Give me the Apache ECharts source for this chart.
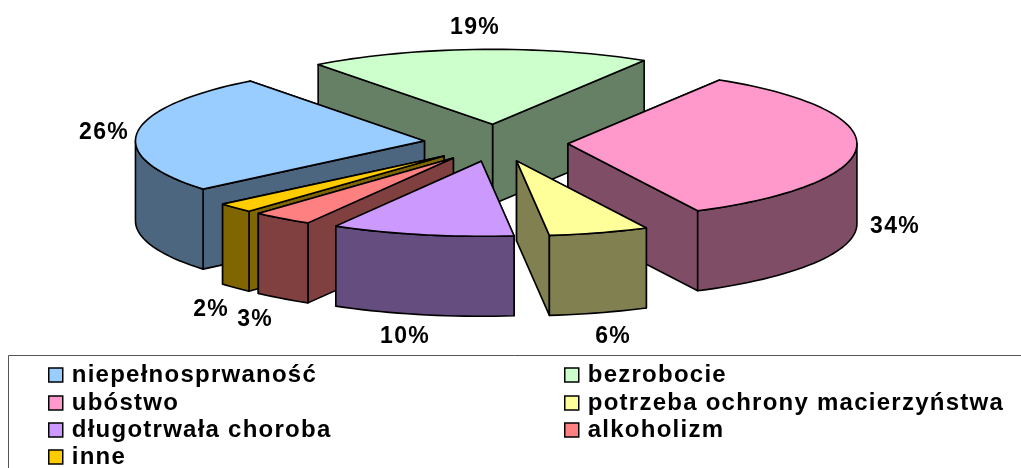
<!DOCTYPE html>
<html><head><meta charset="utf-8">
<style>html,body{margin:0;padding:0;background:#fff}#c{width:1021px;height:468px}</style>
<script src="https://cdn.jsdelivr.net/npm/echarts@6/dist/echarts.min.js"></script>
</head><body><div id="c"></div>
<script>
const categories = ['niepełnosprwaność','bezrobocie','ubóstwo','potrzeba ochrony macierzyństwa','długotrwała choroba','alkoholizm','inne'];
const shares = [25.8,19.1,33.8,5.6,10.2,3.4,2.1];
const topColors = ['#99CCFF','#CCFFCC','#FF99CC','#FFFF99','#CC99FF','#FF8080','#FFCC00'];
const wallColors = ['#4D6680','#668066','#804D66','#808050','#664D80','#804040','#806600'];
const drawOrder = [1,0,2,6,5,4,3];

const C = {x:496,y:143,rx:289,ry:75,depth:80,explode:72,firstAngle:230};
const labelAt = [[104,133],[475,28],[895,227],[613,337],[405,337],[255,320],[211,310]];
const legendAt = [[48,366],[564,366],[48,394],[564,394],[48,421],[564,421],[48,448]];

const total = shares.reduce((a,b)=>a+b,0);
const rad = d=>d*Math.PI/180;
function sliceAngles(i){
  let a = C.firstAngle;
  for(let k=0;k<i;k++) a += shares[k]/total*360;
  return [a, a+shares[i]/total*360];
}
function renderSlice(params, api){
  const i = api.value(1);
  const [a0,a1] = sliceAngles(i);
  const m = rad((a0+a1)/2);
  const cx = C.x + C.explode*Math.sin(m);
  const cy = C.y - C.explode*(C.ry/C.rx)*Math.cos(m);
  const P = (a,dz)=>[cx+C.rx*Math.sin(rad(a)), cy-C.ry*Math.cos(rad(a))+(dz||0)];
  const arc = (s,e,dz)=>{const n=Math.max(2,Math.ceil(Math.abs(e-s)/2));const o=[];for(let j=0;j<=n;j++)o.push(P(s+(e-s)*j/n,dz));return o;};
  const ln = {stroke:'#000',lineWidth:1.6,lineJoin:'round'};
  const wall = {fill:wallColors[i],...ln};
  const apex=[cx,cy], apexB=[cx,cy+C.depth];
  const face = a=>({type:'polygon',shape:{points:[apex,P(a),P(a,C.depth),apexB]},style:wall});
  const ch = [];
  const faces=[a0,a1].sort((x,y)=>Math.cos(rad(y))-Math.cos(rad(x)));
  faces.forEach(a=>ch.push(face(a)));
  for(const off of [-360,0,360]){
    const s=Math.max(a0+off,90), e=Math.min(a1+off,270);
    if(e>s){ ch.push({type:'polygon',shape:{points:arc(s,e,0).concat(arc(e,s,C.depth))},style:wall}); }
  }
  ch.push({type:'polygon',shape:{points:[apex].concat(arc(a0,a1,0))},style:{fill:topColors[i],...ln}});
  const L = labelAt[i];
  ch.push({type:'text',x:L[0],y:L[1],style:{text:Math.round(api.value(0))+'%',x:0,y:0,align:'center',verticalAlign:'middle',
    fill:'#000',font:'bold 23px "Liberation Sans"'}});
  return {type:'group',children:ch};
}
const series = drawOrder.map((i,z)=>({
  type:'custom',name:categories[i],coordinateSystem:'none',silent:true,animation:false,z:2+z,
  itemStyle:{color:topColors[i]},data:[[shares[i],i]],renderItem:renderSlice
}));
const legend = categories.map((name,i)=>({
  data:[name],left:legendAt[i][0],top:legendAt[i][1]-3,padding:0,itemWidth:14,itemHeight:14,selectedMode:false,icon:'rect',
  itemStyle:{borderColor:'#000',borderWidth:1.5},
  textStyle:{fontFamily:'Liberation Sans',fontWeight:'bold',fontSize:24,color:'#000',padding:[0,0,0,4]}
}));
const option = {
  animation:false,backgroundColor:'#fff',legend,series,
  graphic:[{type:'polyline',silent:true,shape:{points:[[8.5,468],[8.5,355.5],[1021,355.5]]},style:{stroke:'#555',lineWidth:1,fill:null}}]
};
const chart = echarts.init(document.getElementById('c'));
chart.setOption(option);
// the reference's text is letter-spaced; ECharts has no option for it, so it is set on the canvas state
const cv = document.querySelector('#c canvas');
if(cv){ cv.getContext('2d').letterSpacing='1.25px'; chart.clear(); chart.setOption(option); }
</script></body></html>
